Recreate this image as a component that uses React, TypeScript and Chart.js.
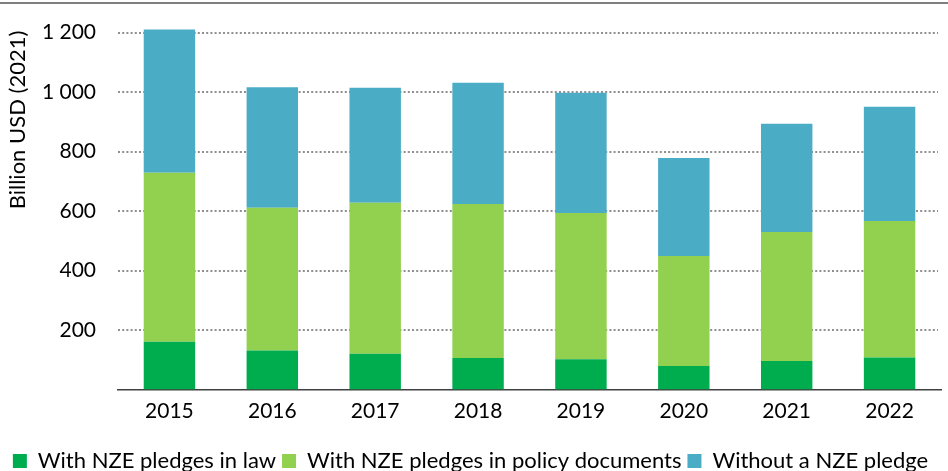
import React, { useEffect, useRef } from "react";
import { Chart, registerables } from "chart.js";

Chart.register(...registerables);

const categories = ["2015", "2016", "2017", "2018", "2019", "2020", "2021", "2022"];
const inLaw = [161, 131, 120, 106, 102, 79, 96, 108];
const inPolicy = [568, 480, 508, 518, 492, 370, 434, 459];
const withoutPledge = [482, 406, 387, 408, 404, 330, 364, 384];
const seriesNames = ["With NZE pledges in law", "With NZE pledges in policy documents", "Without a NZE pledge"];
const seriesColors = ["#00AD4E", "#92D050", "#4BACC6"];
const yTicks = [200, 400, 600, 800, 1000, 1200];
const yTitle = "Billion USD (2021)";

const FONT = "Lato, 'Open Sans', sans-serif";

function fmt(v: number): string {
  const s = String(Math.round(v));
  return s.replace(/\B(?=(\d{3})+(?!\d))/g, " ");
}

const dottedGrid = {
  id: "dottedGrid",
  beforeDatasetsDraw(chart: any) {
    const ctx = chart.ctx;
    const y = chart.scales.y;
    const { left, right } = chart.chartArea;
    ctx.save();
    ctx.strokeStyle = "#8f8f8f";
    ctx.lineWidth = 2;
    ctx.setLineDash([2, 2.2]);
    for (const v of yTicks) {
      const py = Math.round(y.getPixelForValue(v));
      ctx.beginPath();
      ctx.moveTo(left, py);
      ctx.lineTo(right - 3, py);
      ctx.stroke();
    }
    ctx.restore();
  },
};

const decor = {
  id: "decor",
  afterDraw(chart: any) {
    const ctx = chart.ctx;
    ctx.save();
    ctx.strokeStyle = "#7f7f7f";
    ctx.lineWidth = 2;
    ctx.beginPath();
    ctx.moveTo(0, 3);
    ctx.lineTo(chart.width, 3);
    ctx.stroke();
    ctx.translate(18, 120);
    ctx.rotate(-Math.PI / 2);
    ctx.fillStyle = "#000";
    ctx.font = "22px " + FONT;
    ctx.textAlign = "center";
    ctx.textBaseline = "middle";
    ctx.fillText(yTitle, 0, 0);
    ctx.restore();
  },
};

export default function App() {
  const ref = useRef<HTMLCanvasElement | null>(null);
  useEffect(() => {
    if (!ref.current) return;
    const data = [inLaw, inPolicy, withoutPledge];
    const chart = new Chart(ref.current, {
      type: "bar",
      data: {
        labels: categories,
        datasets: seriesNames.map((n, i) => ({
          label: n,
          data: data[i],
          backgroundColor: seriesColors[i],
          borderWidth: 0,
          barPercentage: 0.5,
          categoryPercentage: 1,
        })),
      },
      options: {
        animation: false,
        responsive: false,
        layout: { padding: { top: 3, right: 7, bottom: -11, left: 0 } },
        plugins: {
          tooltip: { enabled: false },
          legend: {
            position: "bottom",
            labels: {
              boxWidth: 14,
              boxHeight: 14,
              padding: 6,
              color: "#000",
              font: { family: FONT, size: 22 },
            },
          },
        },
        scales: {
          x: {
            stacked: true,
            grid: { display: false, drawTicks: false },
            border: { display: true, color: "#404040", width: 1.5 },
            ticks: { color: "#000", padding: 9, font: { family: FONT, size: 21 } },
            afterFit: (s: any) => {
              s.height = 54.5;
              s.paddingLeft = 0;
              s.paddingRight = 0;
            },
          },
          y: {
            stacked: true,
            min: 0,
            max: 1300,
            border: { display: false },
            grid: { display: false, drawTicks: false },
            ticks: {
              stepSize: 200,
              color: "#000",
              padding: 22,
              font: { family: FONT, size: 21 },
              callback: (v: any) => fmt(Number(v)),
            },
            afterBuildTicks: (s: any) => {
              s.ticks = yTicks.map((v) => ({ value: v }));
            },
            afterFit: (s: any) => {
              s.width = 118;
              s.paddingTop = 0;
              s.paddingBottom = 0;
            },
          },
        } as any,
      },
      plugins: [dottedGrid, decor],
    });
    return () => chart.destroy();
  }, []);
  return (
    <div style={{ position: "absolute", left: 0, top: 0, width: 948, height: 471, background: "#fff" }}>
      <canvas ref={ref} width={948} height={471} />
    </div>
  );
}
